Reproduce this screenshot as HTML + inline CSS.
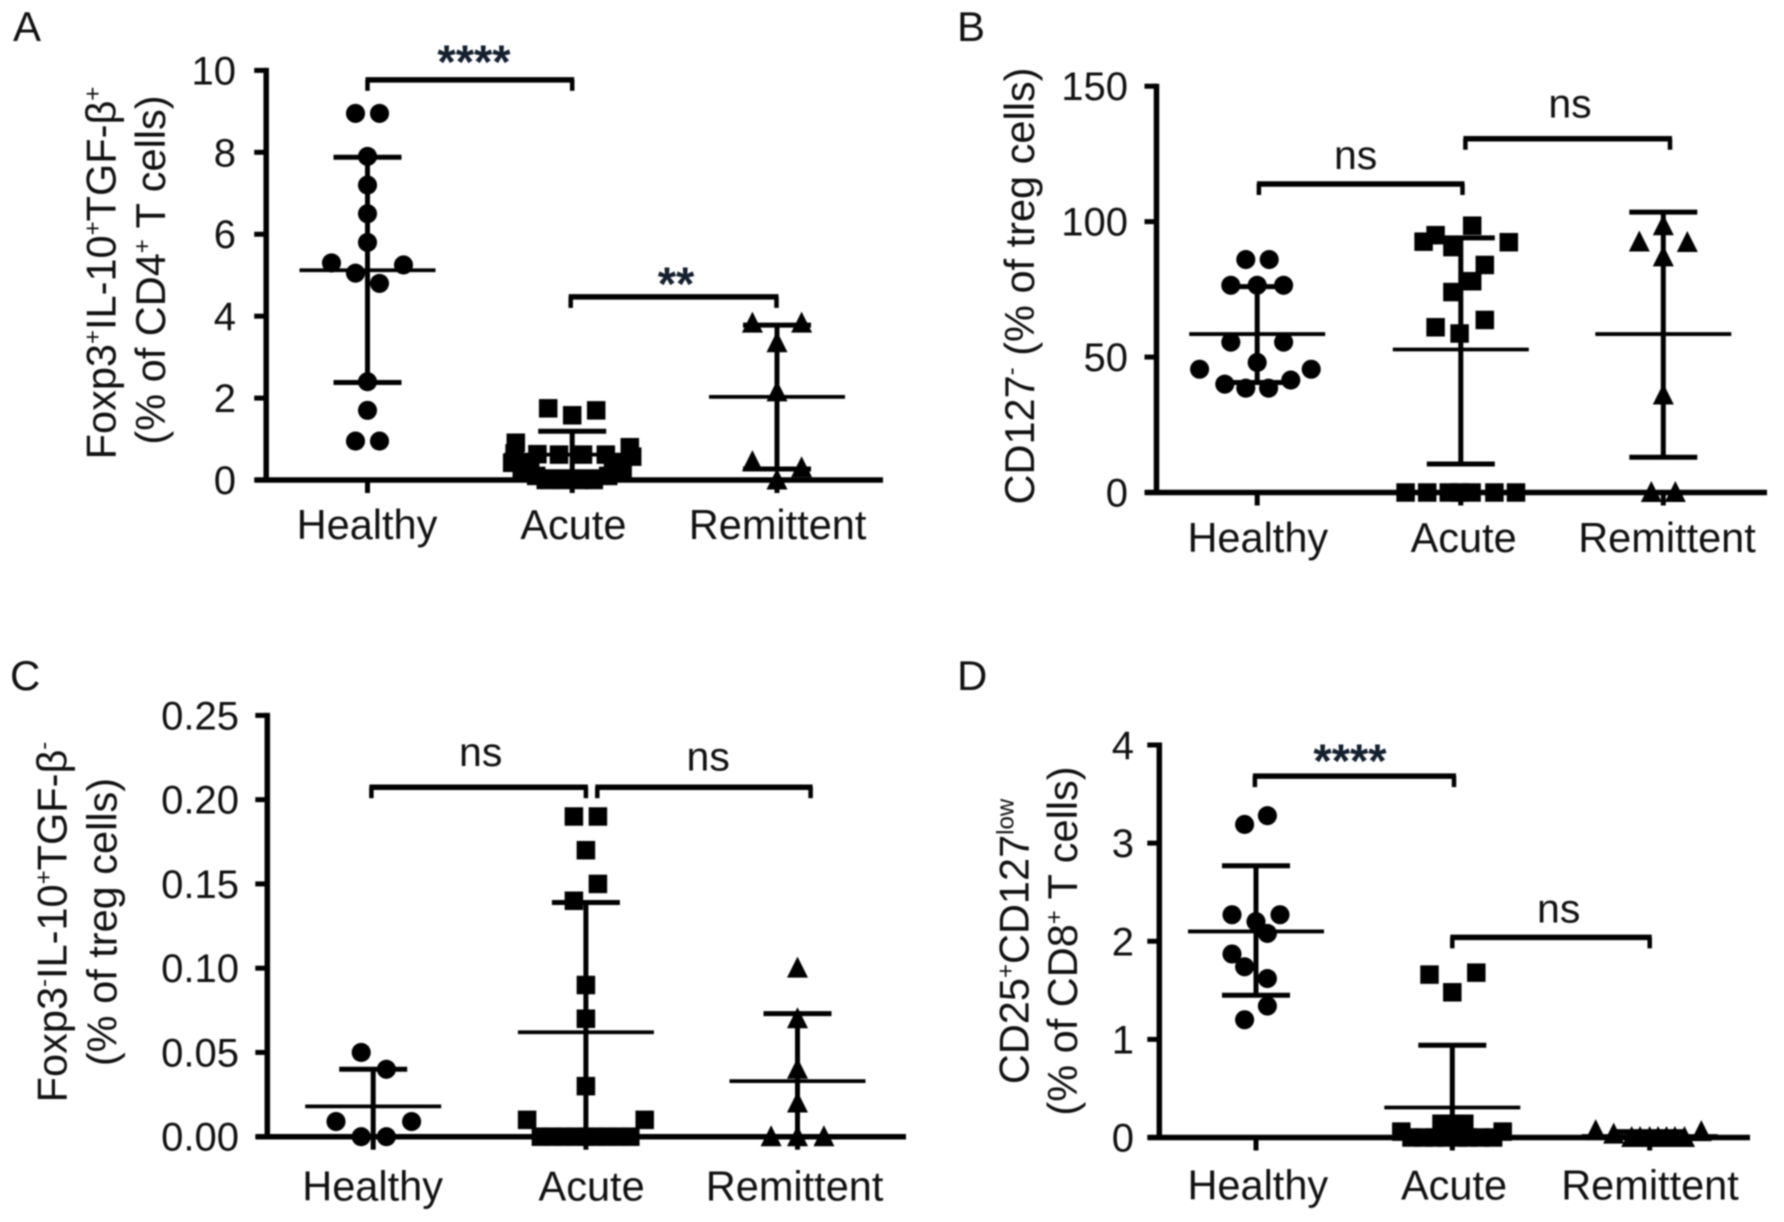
<!DOCTYPE html>
<html lang="en">
<head>
<meta charset="utf-8">
<title>Treg cell frequencies in healthy, acute and remittent groups</title>
<style>
  html, body { margin: 0; padding: 0; background: #fff; }
  #figure { display: block; width: 1784px; height: 1222px; filter: blur(0.7px); }
  text { font-family: "Liberation Sans", sans-serif; fill: #111; }
  .title { font-size: 41.5px; }
  .tick { font-size: 40px; }
  .cat { font-size: 41.5px; }
  .letter { font-size: 42px; }
  .ns { font-size: 41px; }
  .stars { font-size: 47px; font-weight: bold; fill: #14202e; }
</style>
</head>
<body>
<svg id="figure" xmlns="http://www.w3.org/2000/svg" width="1784" height="1222" viewBox="0 0 1784 1222">
  <rect width="1784" height="1222" fill="#fff"/>

  <text class="letter" x="13" y="41">A</text>
  <text class="letter" x="957" y="41">B</text>
  <text class="letter" x="10" y="690">C</text>
  <text class="letter" x="957" y="690">D</text>

  <text class="title" text-anchor="middle" transform="translate(115.5 273) rotate(-90)">Foxp3<tspan font-size="24" dy="-15">+</tspan><tspan dy="15">IL-10</tspan><tspan font-size="24" dy="-15">+</tspan><tspan dy="15">TGF-β</tspan><tspan font-size="24" dy="-15">+</tspan></text>
  <text class="title" text-anchor="middle" transform="translate(165 270) rotate(-90)">(% of CD4<tspan font-size="24" dy="-15">+</tspan><tspan dy="15"> T cells)</tspan></text>

  <text class="title" text-anchor="middle" transform="translate(1034 286) rotate(-90)">CD127<tspan font-size="24" dy="-15">-</tspan><tspan dy="15"> (% of treg cells)</tspan></text>

  <text class="title" text-anchor="middle" transform="translate(66.5 922) rotate(-90)">Foxp3<tspan font-size="24" dy="-15">-</tspan><tspan dy="15">IL-10</tspan><tspan font-size="24" dy="-15">+</tspan><tspan dy="15">TGF-β</tspan><tspan font-size="24" dy="-15">-</tspan></text>
  <text class="title" text-anchor="middle" transform="translate(116.5 922) rotate(-90)">(% of treg cells)</text>

  <text class="title" text-anchor="middle" transform="translate(1028.5 941.5) rotate(-90)">CD25<tspan font-size="24" dy="-15">+</tspan><tspan dy="15">CD127</tspan><tspan font-size="24" dy="-15">low</tspan></text>
  <text class="title" text-anchor="middle" transform="translate(1077 941) rotate(-90)">(% of CD8<tspan font-size="24" dy="-15">+</tspan><tspan dy="15"> T cells)</tspan></text>
</svg>

<script>
const categories = ['Healthy', 'Acute', 'Remittent'];

/* Panel A */
const aTickValues = [0, 2, 4, 6, 8, 10];
const aTickLabels = ['0', '2', '4', '6', '8', '10'];
const aHealthyValues = [8.95, 8.95, 7.9, 7.2, 6.5, 5.8, 5.3, 5.25, 5.05, 4.8, 2.4, 1.7, 0.95, 0.95];
const aHealthyJitter = [-1, 1, 0, 0, 0, 0, -3, 3, -1, 1, 0, 0, -1, 1];
const aHealthyStats = [5.12, 7.88, 2.38];
const aAcuteValues = [1.75, 1.58, 1.7, 0.91, 0.8, 0.65, 0.42, 0.57, 0.63, 0.62, 0.62, 0.62, 0.25, 0.25, 0.42, 0.4, 0.2, 0.2, 0.1, 0.1, 0, 0, 0, 0];
const aAcuteJitter = [-2, 0, 2, -4.7, 4.8, -4.8, -5, 5, -2.9, -1.1, 0.9, 2.8, -3.5, 3.4, -4, 4, -4.2, 4.2, -3, 3, -2.2, -0.7, 0.6, 1.8];
const aAcuteStats = [0.62, 1.19, 0.2];
const aRemittentValues = [3.83, 3.83, 3.35, 2.15, 0.45, 0.3, 0];
const aRemittentJitter = [-2.05, 2.05, 0, 0, -2.05, 2.05, 0];
const aRemittentStats = [2.03, 3.78, 0.27];

/* Panel B */
const bTickValues = [0, 50, 100, 150];
const bTickLabels = ['0', '50', '100', '150'];
const bHealthyValues = [86, 86, 76.5, 76.5, 76.5, 55.5, 55.5, 48, 45.5, 45.5, 40, 41.5, 38.5, 38.5];
const bHealthyJitter = [-0.95, 1, -2.2, 0, 2.2, -2.2, 2.2, 0, -4.8, 4.5, -2.7, 2.8, -0.95, 0.95];
const bHealthyStats = [58.5, 76, 40.6];
const bAcuteValues = [98.5, 95, 92.6, 92.4, 90.6, 84, 78, 74, 63.7, 61, 58.7, 0, 0, 0, 0, 0, 0, 0];
const bAcuteJitter = [0.95, -2.1, -3.1, 4, -0.7, 2, 0.95, -0.7, 2, -2.1, -0.1, -4.6, -2.8, -1, -0.1, 0.9, 2.8, 4.6];
const bAcuteStats = [52.8, 94, 10.5];
const bRemittentValues = [98.5, 92.5, 92.3, 87, 36, 0, 0];
const bRemittentJitter = [0, -2, 2, 0, 0, -1, 1];
const bRemittentStats = [58.5, 103.5, 13];

/* Panel C */
const cTickValues = [0, 0.05, 0.1, 0.15, 0.2, 0.25];
const cTickLabels = ['0.00', '0.05', '0.10', '0.15', '0.20', '0.25'];
const cHealthyValues = [0.05, 0.04, 0.009, 0.009, 0, 0];
const cHealthyJitter = [-1, 1.1, -3.1, 3.2, -1, 1.1];
const cHealthyStats = [0.018, 0.04, 0];
const cAcuteValues = [0.19, 0.19, 0.17, 0.15, 0.14, 0.09, 0.07, 0.03, 0.01, 0.01, 0, 0, 0, 0, 0, 0, 0, 0, 0];
const cAcuteJitter = [-1, 1, 0, 1, -1, 0, 0, 0, -4.9, 4.9, -3.75, -2.8, -1.9, -0.9, 0, 0.9, 1.8, 2.7, 3.7];
const cAcuteStats = [0.062, 0.139, 0];
const cRemittentValues = [0.1, 0.07, 0.04, 0.02, 0, 0, 0];
const cRemittentJitter = [0, 0, 0, 0, -2.2, 0, 2.2];
const cRemittentStats = [0.033, 0.073, 0];

/* Panel D */
const dTickValues = [0, 1, 2, 3, 4];
const dTickLabels = ['0', '1', '2', '3', '4'];
const dHealthyValues = [3.28, 3.19, 2.27, 2.27, 2.2, 2.08, 1.87, 1.74, 1.62, 1.34, 1.2];
const dHealthyJitter = [0.95, -0.95, -2, 2, 0, 0.95, -2, -0.95, 0.95, 0.95, -0.95];
const dHealthyStats = [2.1, 2.77, 1.45];
const dAcuteValues = [1.66, 1.68, 1.48, 0.06, 0.06, 0.14, 0.14, 0.14, 0, 0, 0, 0, 0, 0, 0, 0];
const dAcuteJitter = [-1.9, 2, 0, -4.25, 4.2, -0.9, 1, 0, -3.4, -2.4, -1.5, -0.5, 0.5, 1.3, 2.3, 3.4];
const dAcuteStats = [0.306, 0.94, 0];
const dRemittentValues = [0.07, 0.06, 0.035, 0, 0, 0, 0, 0, 0, 0];
const dRemittentJitter = [-4.5, 4.3, -3, -1.5, -0.8, 0, 0.7, 1.4, 2.1, 2.9];
const dRemittentStats = [0.015, 0.06, 0];

/* Significance annotations: from-group, to-group, level on the y axis, label */
const aBracketFrom = [0, 1];
const aBracketTo = [1, 2];
const aBracketLevels = [9.77, 4.47];
const aBracketLabels = ['****', '**'];
const bBracketFrom = [0, 1];
const bBracketTo = [1, 2];
const bBracketLevels = [113.9, 130.6];
const bBracketLabels = ['ns', 'ns'];
const cBracketFrom = [0, 1];
const cBracketTo = [1, 2];
const cBracketLevels = [0.2074, 0.2074];
const cBracketLabels = ['ns', 'ns'];
const dBracketFrom = [0, 1];
const dBracketTo = [1, 2];
const dBracketLevels = [3.683, 2.04];
const dBracketLabels = ['****', 'ns'];

const NS = 'http://www.w3.org/2000/svg';
const svg = document.getElementById('figure');
const JITTER_STEP = 12;
const MARKER = 18.5;

const shapes = ['circle', 'square', 'triangle'];

function line(x1, y1, x2, y2, width, name) {
  const el = document.createElementNS(NS, 'line');
  el.setAttribute('x1', x1);
  el.setAttribute('y1', y1);
  el.setAttribute('x2', x2);
  el.setAttribute('y2', y2);
  el.setAttribute('stroke', '#000');
  el.setAttribute('stroke-width', width);
  
  
  svg.appendChild(el);
}

function label(x, y, str, cls, anchor, name) {
  const el = document.createElementNS(NS, 'text');
  el.setAttribute('x', x);
  el.setAttribute('y', y);
  el.setAttribute('class', cls);
  el.setAttribute('text-anchor', anchor);
  el.textContent = str;
  
  
  svg.appendChild(el);
}

function marker(shape, cx, cy, name) {
  let el;
  if (shape === 'circle') {
    el = document.createElementNS(NS, 'circle');
    el.setAttribute('cx', cx);
    el.setAttribute('cy', cy);
    el.setAttribute('r', MARKER / 2 + 0.3);
  } else if (shape === 'square') {
    el = document.createElementNS(NS, 'rect');
    el.setAttribute('x', cx - MARKER / 2);
    el.setAttribute('y', cy - MARKER / 2);
    el.setAttribute('width', MARKER);
    el.setAttribute('height', MARKER);
  } else {
    el = document.createElementNS(NS, 'polygon');
    el.setAttribute('points', [cx, cy - 11.5, cx + 10.5, cy + 9.5, cx - 10.5, cy + 9.5].join(' '));
  }
  el.setAttribute('fill', '#000');
  
  
  svg.appendChild(el);
}

function drawPanel(p) {
  const y = v => p.yZero - (v / p.yMax) * (p.yZero - p.yTop);
  const id = p.id;

  p.series.forEach((s, i) => {
    const cx = p.catX[i];
    const groupName = id + '-' + categories[i].toLowerCase();
    s.values.forEach((v, k) => {
      marker(shapes[i], cx + s.jitter[k] * JITTER_STEP, y(v), groupName + '-point');
    });
    line(cx, y(s.stats[1]), cx, y(s.stats[2]), 5, groupName + '-error-bar');
    line(cx - 34, y(s.stats[1]), cx + 34, y(s.stats[1]), 5, groupName + '-upper-cap');
    line(cx - 34, y(s.stats[2]), cx + 34, y(s.stats[2]), 5, groupName + '-lower-cap');
    line(cx - 68, y(s.stats[0]), cx + 68, y(s.stats[0]), 3.8, groupName + '-mean-line');
  });

  line(p.axisX, p.yTop - 2.5, p.axisX, p.yZero + 2.5, 5.5, id + '-y-axis');
  line(p.axisLeft, p.yZero, p.axisRight, p.yZero, 5.5, id + '-x-axis');

  p.tickValues.forEach((v, i) => {
    line(p.axisX - 12, y(v), p.axisX, y(v), 5, id + '-y-tick');
    label(p.tickRight, y(v) + 14, p.tickLabels[i], 'tick', 'end', id + '-y-tick-label');
  });

  categories.forEach((c, i) => {
    line(p.catX[i], p.yZero, p.catX[i], p.yZero + 13, 5, id + '-x-tick');
    label(p.catLabelX[i], p.catBaseline, c, 'cat', 'middle', id + '-x-label-' + c.toLowerCase());
  });

  p.brFrom.forEach((from, i) => {
    const x1 = p.catX[from] + p.brNudge[i][0];
    const x2 = p.catX[p.brTo[i]] + p.brNudge[i][1];
    const by = y(p.brLevels[i]);
    const tickLen = 11;
    line(x1 - 2, by, x2 + 2, by, 5.5, id + '-bracket-bar');
    line(x1, by, x1, by + tickLen, 4.5, id + '-bracket-left-drop');
    line(x2, by, x2, by + tickLen, 4.5, id + '-bracket-right-drop');
    const text = p.brLabels[i];
    const isStars = text.indexOf('*') === 0;
    const lx = p.brTextX[i];
    const ly = by + p.brTextDy[i];
    label(lx, ly, text, isStars ? 'stars' : 'ns', 'middle', id + '-significance-label');
  });
}

drawPanel({
  id: 'panel-a', yTop: 70.4, yZero: 480, yMax: 10, axisX: 266.2, axisLeft: 255, axisRight: 883,
  catX: [367.5, 572.2, 777], catLabelX: [367, 573.4, 777.6], catBaseline: 539, tickRight: 236,
  tickValues: aTickValues, tickLabels: aTickLabels,
  series: [
    { values: aHealthyValues, jitter: aHealthyJitter, stats: aHealthyStats },
    { values: aAcuteValues, jitter: aAcuteJitter, stats: aAcuteStats },
    { values: aRemittentValues, jitter: aRemittentJitter, stats: aRemittentStats }
  ],
  brFrom: aBracketFrom, brTo: aBracketTo, brLevels: aBracketLevels, brLabels: aBracketLabels,
  brNudge: [[0, 0], [-1.5, -0.5]], brTextX: [474, 676], brTextDy: [-2, 3]
});

drawPanel({
  id: 'panel-b', yTop: 86.2, yZero: 492.5, yMax: 150, axisX: 1156.5, axisLeft: 1145, axisRight: 1767,
  catX: [1257.2, 1460.8, 1663.3], catLabelX: [1257.8, 1463.7, 1667], catBaseline: 552, tickRight: 1128,
  tickValues: bTickValues, tickLabels: bTickLabels,
  series: [
    { values: bHealthyValues, jitter: bHealthyJitter, stats: bHealthyStats },
    { values: bAcuteValues, jitter: bAcuteJitter, stats: bAcuteStats },
    { values: bRemittentValues, jitter: bRemittentJitter, stats: bRemittentStats }
  ],
  brFrom: bBracketFrom, brTo: bBracketTo, brLevels: bBracketLevels, brLabels: bBracketLabels,
  brNudge: [[1.7, 1.7], [4.6, 6.7]], brTextX: [1355.6, 1570], brTextDy: [-15, -21]
});

drawPanel({
  id: 'panel-c', yTop: 715.4, yZero: 1136.7, yMax: 0.25, axisX: 267.3, axisLeft: 256, axisRight: 906,
  catX: [373.2, 585.9, 797.5], catLabelX: [372.6, 591.6, 794.6], catBaseline: 1200.5, tickRight: 239,
  tickValues: cTickValues, tickLabels: cTickLabels,
  series: [
    { values: cHealthyValues, jitter: cHealthyJitter, stats: cHealthyStats },
    { values: cAcuteValues, jitter: cAcuteJitter, stats: cAcuteStats },
    { values: cRemittentValues, jitter: cRemittentJitter, stats: cRemittentStats }
  ],
  brFrom: cBracketFrom, brTo: cBracketTo, brLevels: cBracketLevels, brLabels: cBracketLabels,
  brNudge: [[-1.8, 0], [11.4, 13.1]], brTextX: [480.7, 708.2], brTextDy: [-21, -16.5]
});

drawPanel({
  id: 'panel-d', yTop: 745, yZero: 1137.5, yMax: 4, axisX: 1159.3, axisLeft: 1148, axisRight: 1750,
  catX: [1256, 1452.3, 1649.7], catLabelX: [1257.8, 1454, 1650], catBaseline: 1199.4, tickRight: 1134,
  tickValues: dTickValues, tickLabels: dTickLabels,
  series: [
    { values: dHealthyValues, jitter: dHealthyJitter, stats: dHealthyStats },
    { values: dAcuteValues, jitter: dAcuteJitter, stats: dAcuteStats },
    { values: dRemittentValues, jitter: dRemittentJitter, stats: dRemittentStats }
  ],
  brFrom: dBracketFrom, brTo: dBracketTo, brLevels: dBracketLevels, brLabels: dBracketLabels,
  brNudge: [[-1.1, 1.7], [0, 0]], brTextX: [1350, 1558.7], brTextDy: [1, -15]
});
</script>
</body>
</html>
